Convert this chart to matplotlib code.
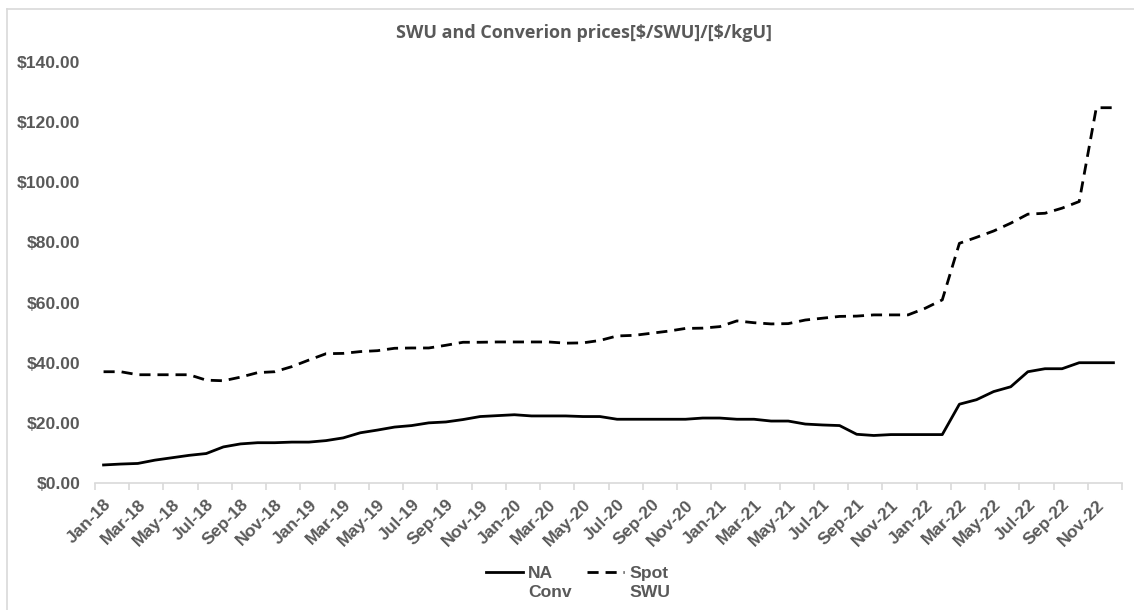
import numpy as np
import pandas as pd
import matplotlib
matplotlib.use('Agg')
import matplotlib.pyplot as plt
from matplotlib.lines import Line2D

# monthly data, Jan-18 .. Dec-22
months = pd.date_range('2018-01-01', '2022-12-01', freq='MS').strftime('%b-%y').tolist()

na_conv = [6.0, 6.3, 6.5, 7.6, 8.4, 9.2, 9.8, 12.0, 13.0, 13.4, 13.4, 13.6,
           13.6, 14.1, 15.0, 16.7, 17.6, 18.6, 19.1, 20.0, 20.3, 21.1, 22.1, 22.4,
           22.7, 22.3, 22.3, 22.3, 22.1, 22.1, 21.2, 21.2, 21.2, 21.2, 21.2, 21.6,
           21.6, 21.2, 21.2, 20.6, 20.6, 19.6, 19.3, 19.1, 16.2, 15.8, 16.1, 16.1,
           16.1, 16.1, 26.2, 27.7, 30.4, 32.0, 37.0, 38.0, 38.0, 40.0, 40.0, 40.0]

spot_swu = [37.0, 37.0, 36.0, 36.0, 36.0, 36.0, 34.2, 34.0, 35.2, 36.7, 37.0, 38.7,
            40.9, 43.0, 43.1, 43.7, 44.0, 44.8, 44.9, 44.9, 45.8, 46.8, 46.8, 46.9,
            46.9, 46.9, 46.9, 46.5, 46.6, 47.4, 48.9, 49.1, 49.8, 50.5, 51.4, 51.5,
            52.0, 53.9, 53.3, 52.9, 53.0, 54.2, 54.8, 55.4, 55.5, 55.9, 55.9, 55.9,
            58.1, 60.9, 79.7, 81.7, 83.8, 86.4, 89.4, 89.7, 91.4, 93.6, 124.8, 124.8]

label_names = ['NA\nConv', 'Spot\nSWU']
yticks = [0, 20, 40, 60, 80, 100, 120, 140]

gray = '#595959'
axis_gray = '#d9d9d9'

fig = plt.figure(figsize=(11.34, 6.10), dpi=100)
ax = fig.add_axes([95/1134, 1-483/610, (1122-95)/1134, (483-62)/610])

x = np.arange(len(months))
ax.plot(x, na_conv, color='black', lw=2.0, label=label_names[0])
ax.plot(x, spot_swu, color='black', lw=2.0, linestyle=(0, (4, 2.5)), label=label_names[1])

ax.set_xlim(-0.5, len(months) - 0.5)
ax.set_ylim(0, 140)

ax.set_yticks(yticks)
ax.set_yticklabels(['${:.2f}'.format(v) for v in yticks])
ax.tick_params(axis='y', length=0, pad=10.5, labelsize=12.6, labelcolor=gray)
for t in ax.get_yticklabels():
    t.set_fontweight('bold')
    t.set_family('Liberation Sans')

ax.set_xticks(x[::2])
ax.set_xticklabels(months[::2], rotation=45, ha='right', va='top', rotation_mode='anchor')
ax.set_xticks(np.arange(-0.5, len(months), 2), minor=True)
ax.tick_params(axis='x', which='major', length=0, pad=10, labelsize=12.6, labelcolor=gray)
ax.tick_params(axis='x', which='minor', length=5, width=1.2, color=axis_gray)
for t in ax.get_xticklabels():
    t.set_fontweight('bold')
    t.set_family('Liberation Sans')

for s in ['top', 'right', 'left']:
    ax.spines[s].set_visible(False)
ax.spines['bottom'].set_color(axis_gray)
ax.spines['bottom'].set_linewidth(1.2)

fig.text(584/1134, 1-33/610, r'SWU and Converion prices[\$/SWU]/[\$/kgU]', ha='center', va='center',
         fontsize=13, color=gray, family='Open Sans', fontweight='bold')

leg = fig.legend(loc='center', bbox_to_anchor=(578/1134, 1-583/610), ncol=2, frameon=False,
                 prop={'family': 'Liberation Sans', 'weight': 'bold', 'size': 12.6},
                 handlelength=2.1, handletextpad=0.3, columnspacing=0.9, labelspacing=0.2)
for t in leg.get_texts():
    t.set_color(gray)
    t.set_linespacing(1.3)
# put the legend keys level with the first text line, as Excel does
for h in leg.legend_handles:
    h.set_ydata(np.asarray(h.get_ydata()) + 8)

# chart border (left and top visible)
fig.add_artist(Line2D([7/1134, 7/1134], [0, 1-9/610], color=axis_gray, lw=1.2))
fig.add_artist(Line2D([7/1134, 1], [1-9/610, 1-9/610], color=axis_gray, lw=1.2))

fig.savefig('out.png', dpi=100)
